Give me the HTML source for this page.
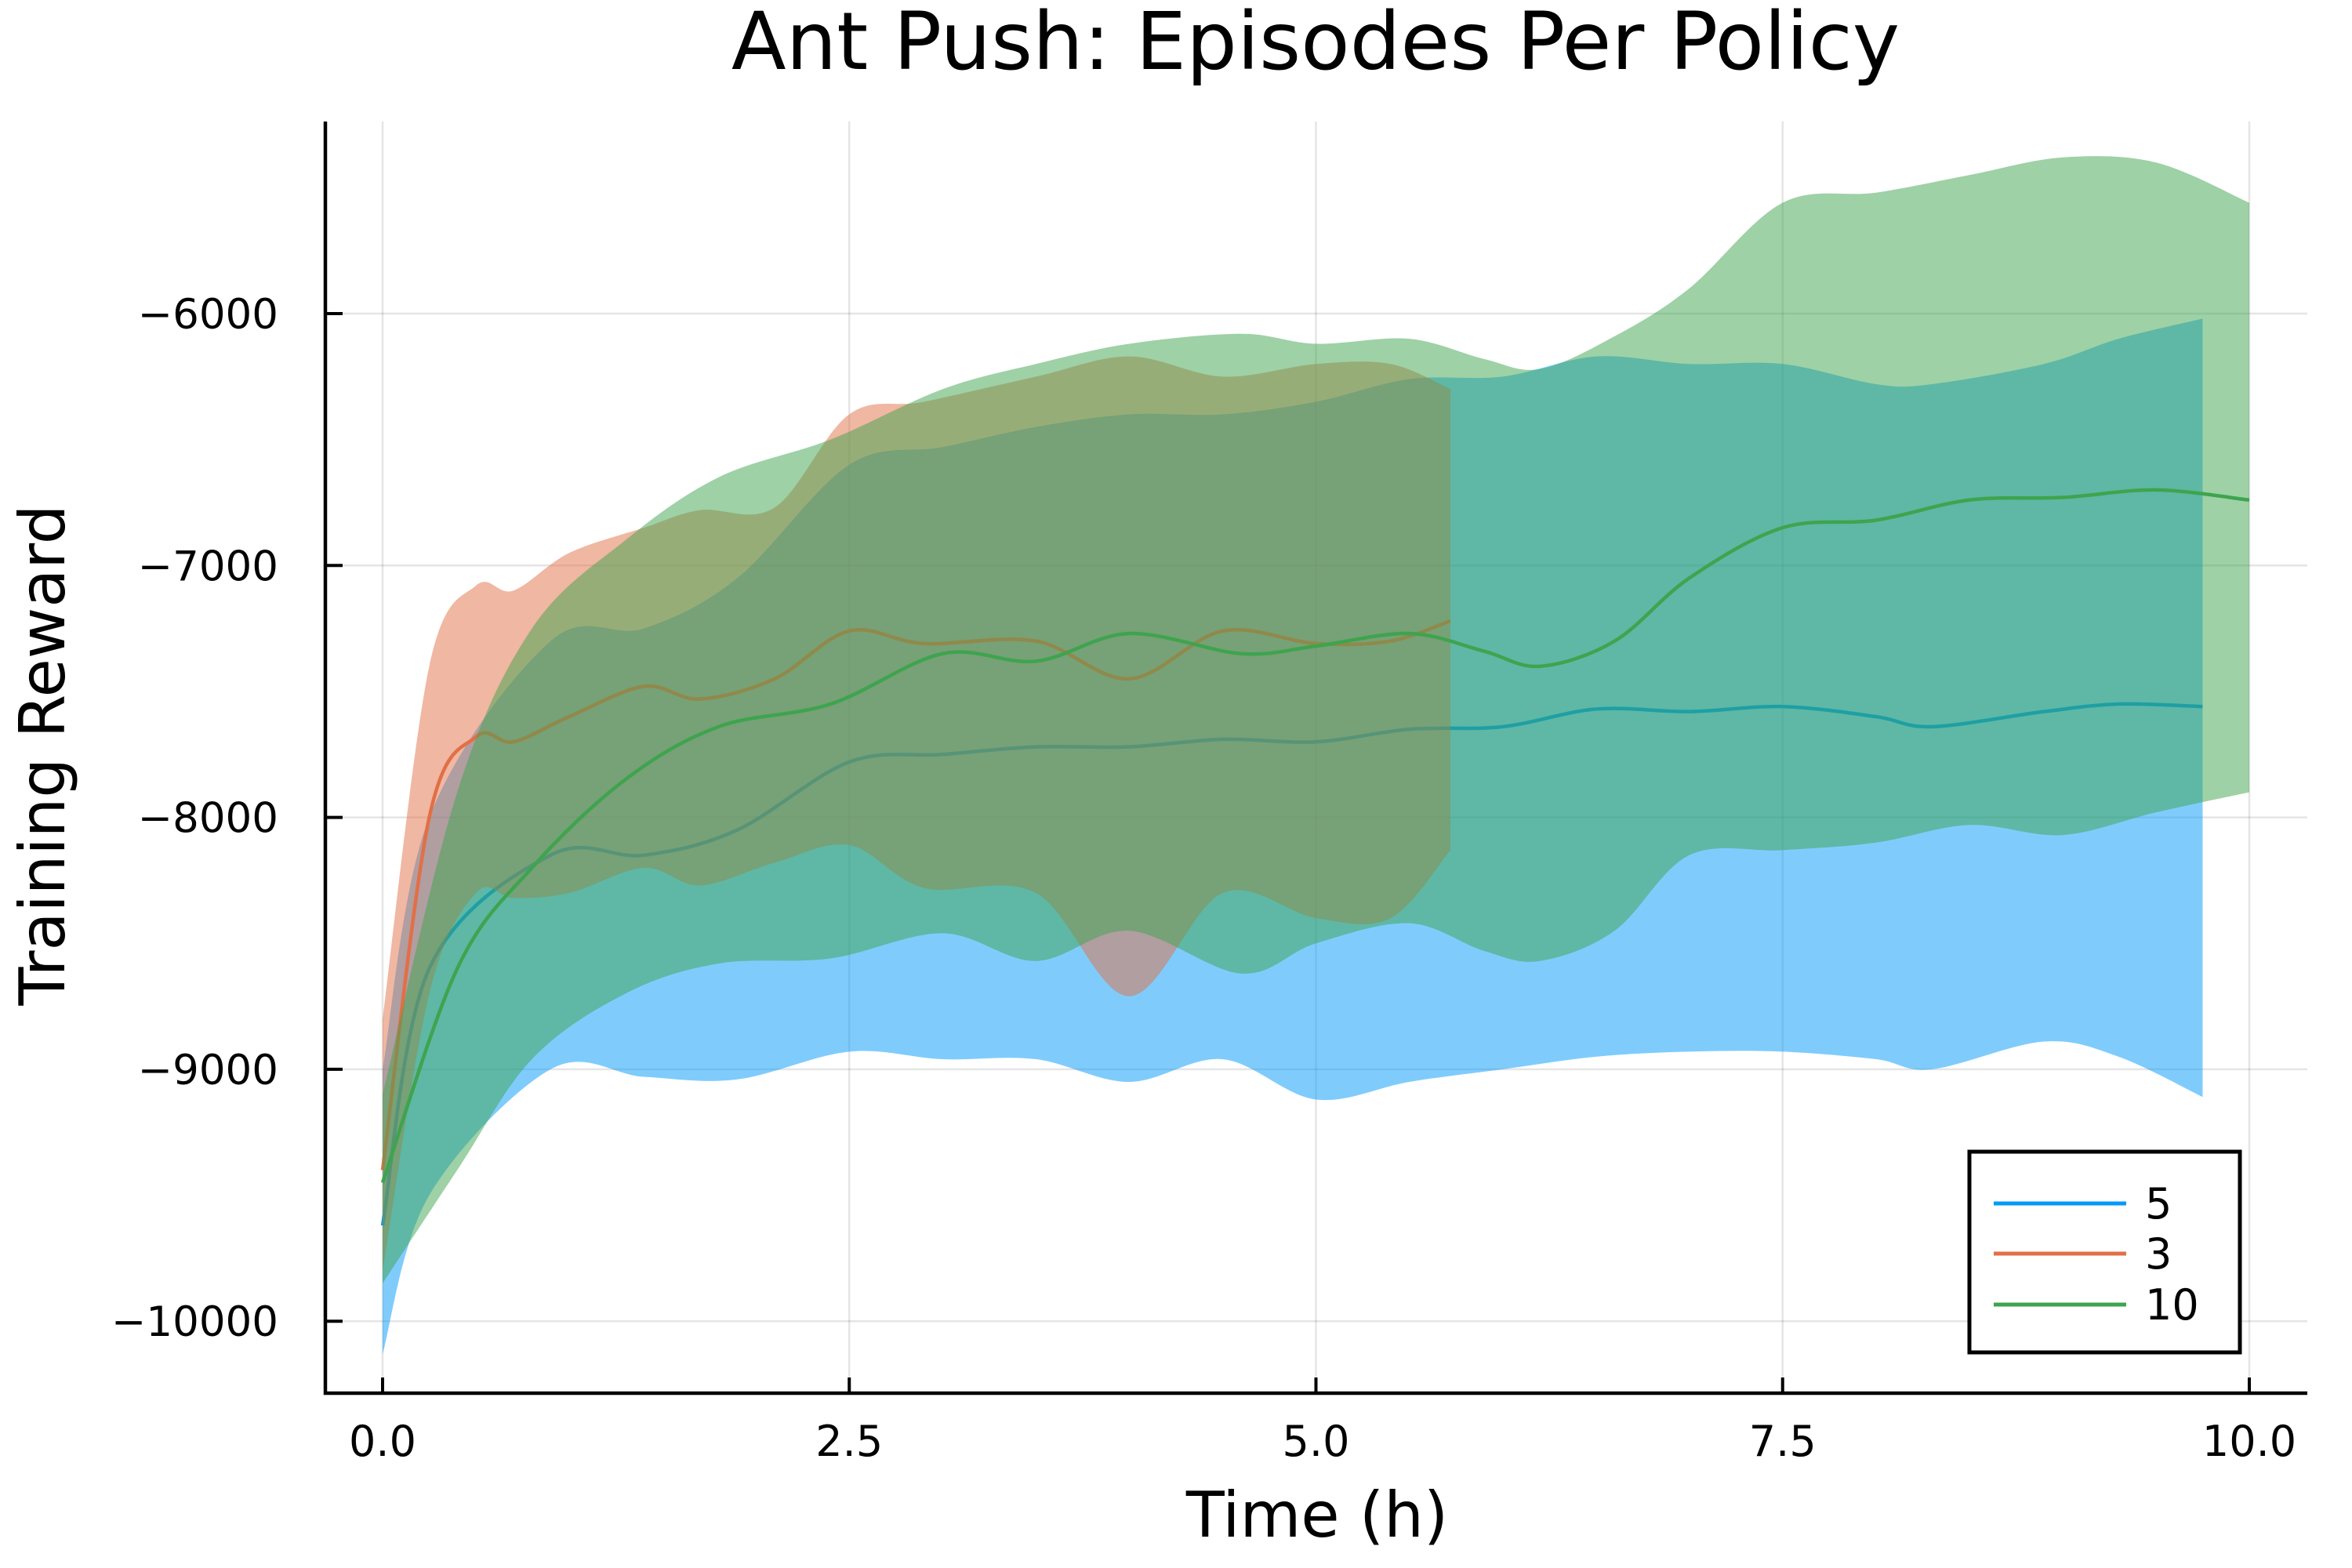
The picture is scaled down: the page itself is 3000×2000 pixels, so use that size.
<!DOCTYPE html>
<html><head><meta charset="utf-8"><style>
html,body{margin:0;padding:0;background:#fff}
svg{display:block;font-family:"DejaVu Sans","Liberation Sans",sans-serif}
</style></head><body>
<svg id="chart" width="3000" height="2000" viewBox="0 0 3000 2000">
<text x="1678" y="88" font-size="102" text-anchor="middle">Ant Push: Episodes Per Policy</text>
<g id="grid"></g>
<g id="series"></g>
<g id="axes"></g>
<text x="1680" y="1960" font-size="80" text-anchor="middle">Time (h)</text>
<text transform="translate(82,963) rotate(-90)" font-size="80" text-anchor="middle">Training Reward</text>
<g>
<rect x="2512" y="1469" width="345" height="256" fill="#fff" stroke="#000" stroke-width="5"/>
<line x1="2543" y1="1535" x2="2712" y2="1535" stroke="#009AFA" stroke-width="5"/>
<text x="2736" y="1554" font-size="54">5</text>
<line x1="2543" y1="1599" x2="2712" y2="1599" stroke="#E26F46" stroke-width="5"/>
<text x="2736" y="1618" font-size="54">3</text>
<line x1="2543" y1="1664" x2="2712" y2="1664" stroke="#3EA44E" stroke-width="5"/>
<text x="2736" y="1683" font-size="54">10</text>
</g>
</svg>
<script>
const xTicks=[0,2.5,5,7.5,10];
const xTickLabels=["0.0","2.5","5.0","7.5","10.0"];
const yTicks=[-6000,-7000,-8000,-9000,-10000];
const yTickLabels=["\u22126000","\u22127000","\u22128000","\u22129000","\u221210000"];

const t5=[0,0.25,0.9,1.4,1.9,2.5,3,3.5,4,4.5,5,5.5,6,6.5,7,7.5,8,8.3,8.9,9.3,9.75];
const mean5=[-9620,-8600,-8150,-8150,-8050,-7780,-7750,-7720,-7720,-7690,-7700,-7650,-7640,-7570,-7580,-7560,-7600,-7640,-7580,-7550,-7560];
const lo5=[-10130,-9500,-9000,-9030,-9040,-8930,-8960,-8960,-9050,-8960,-9120,-9050,-9000,-8950,-8930,-8930,-8960,-9000,-8890,-8950,-9110];
const hi5=[-9000,-8000,-7300,-7250,-7050,-6600,-6530,-6450,-6400,-6400,-6350,-6260,-6250,-6170,-6200,-6200,-6280,-6280,-6200,-6100,-6020];

const t3=[0,0.25,0.5,0.7,1.0,1.4,1.7,2.1,2.5,2.9,3.5,4.0,4.5,5.0,5.4,5.72];
const mean3=[-9400,-8000,-7680,-7700,-7600,-7480,-7530,-7450,-7260,-7310,-7300,-7450,-7260,-7310,-7300,-7220];
const hi3=[-8800,-7400,-7080,-7100,-6950,-6850,-6780,-6770,-6400,-6350,-6250,-6170,-6250,-6200,-6200,-6300];
const lo3=[-9800,-8700,-8300,-8320,-8300,-8200,-8270,-8180,-8110,-8280,-8300,-8710,-8300,-8400,-8400,-8130];

const t10=[0,0.4,0.8,1.3,1.8,2.4,3.0,3.5,4.0,4.6,5.0,5.5,5.9,6.2,6.6,7.0,7.5,8.0,8.5,9.0,9.5,10];
const mean10=[-9450,-8600,-8200,-7850,-7640,-7550,-7350,-7380,-7270,-7350,-7320,-7270,-7340,-7400,-7300,-7050,-6850,-6820,-6740,-6730,-6700,-6740];
const hi10=[-9100,-7900,-7250,-6900,-6650,-6500,-6300,-6200,-6120,-6080,-6120,-6100,-6180,-6220,-6090,-5900,-5560,-5520,-5450,-5380,-5400,-5560];
const lo10=[-9850,-9400,-8960,-8700,-8580,-8560,-8460,-8570,-8450,-8620,-8500,-8420,-8530,-8570,-8450,-8150,-8130,-8100,-8030,-8070,-7980,-7900];

const X0=488,XU=238.1,Y0=400,YU=0.3213;
const L=415,R=2943,T=155,B=1777;
function sx(v){return X0+v*XU;}
function sy(v){return Y0+(-6000-v)*YU;}
const NS="http://www.w3.org/2000/svg";
function mk(tag,attrs,parent){const e=document.createElementNS(NS,tag);for(const k in attrs)e.setAttribute(k,attrs[k]);parent.appendChild(e);return e;}

function spline(pts,move){
  let d=move?`M${pts[0][0]},${pts[0][1]}`:`L${pts[0][0]},${pts[0][1]}`;
  for(let i=0;i<pts.length-1;i++){
    const p0=pts[Math.max(0,i-1)],p1=pts[i],p2=pts[i+1],p3=pts[Math.min(pts.length-1,i+2)];
    const c1=[p1[0]+(p2[0]-p0[0])/6,p1[1]+(p2[1]-p0[1])/6];
    const c2=[p2[0]-(p3[0]-p1[0])/6,p2[1]-(p3[1]-p1[1])/6];
    d+=`C${c1[0]},${c1[1]} ${c2[0]},${c2[1]} ${p2[0]},${p2[1]}`;
  }
  return d;
}
const grid=document.getElementById('grid');
const axes=document.getElementById('axes');
const series=document.getElementById('series');

xTicks.forEach((v,i)=>{
  const g=mk('line',{x1:sx(v),x2:sx(v),y1:T,y2:B,stroke:'#000','stroke-opacity':0.1,'stroke-width':2.5},grid);
  
  
  const tk=mk('line',{x1:sx(v),x2:sx(v),y1:B,y2:B-20,stroke:'#000','stroke-width':4},axes);
  
  
  const tx=mk('text',{x:sx(v),y:B+80,'font-size':54,'text-anchor':'middle'},axes);
  
  
  tx.textContent=xTickLabels[i];
});
yTicks.forEach((v,i)=>{
  const g=mk('line',{x1:L,x2:R,y1:sy(v),y2:sy(v),stroke:'#000','stroke-opacity':0.1,'stroke-width':2.5},grid);
  
  
  const tk=mk('line',{x1:L,x2:L+22,y1:sy(v),y2:sy(v),stroke:'#000','stroke-width':4},axes);
  
  
  const tx=mk('text',{x:L-60,y:sy(v)+19,'font-size':53,'text-anchor':'end'},axes);
  
  
  tx.textContent=yTickLabels[i];
});
const ax=mk('path',{d:`M${L},${T}L${L},${B}L${R},${B}`,fill:'none',stroke:'#000','stroke-width':4.5},axes);



function drawSeries(name,t,mean,lo,hi,color){
  const up=t.map((v,i)=>[sx(v),sy(hi[i])]);
  const dn=t.map((v,i)=>[sx(v),sy(lo[i])]).reverse();
  const band=mk('path',{d:spline(up,true)+spline(dn,false)+'Z',fill:color,'fill-opacity':0.5,stroke:'none'},series);
  
  
  const ln=mk('path',{d:spline(t.map((v,i)=>[sx(v),sy(mean[i])]),true),fill:'none',stroke:color,'stroke-width':4.5},series);
  
  
}
drawSeries('5',t5,mean5,lo5,hi5,'#009AFA');
drawSeries('3',t3,mean3,lo3,hi3,'#E26F46');
drawSeries('10',t10,mean10,lo10,hi10,'#3EA44E');
</script>
</body></html>
